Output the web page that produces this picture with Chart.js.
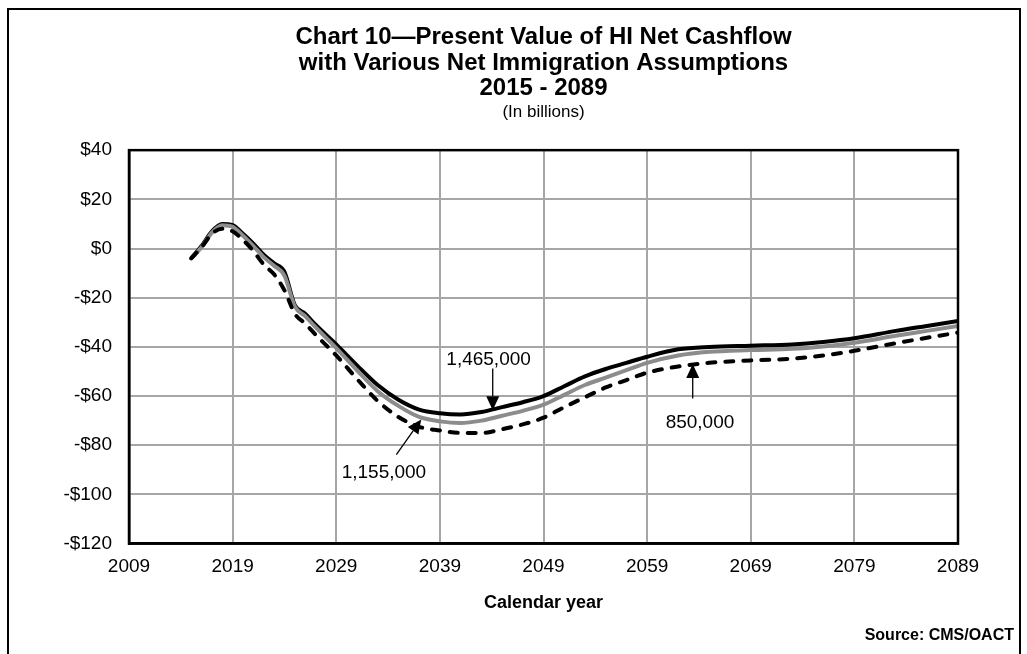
<!DOCTYPE html>
<html>
<head>
<meta charset="utf-8">
<script src="https://cdn.jsdelivr.net/npm/chart.js@4/dist/chart.umd.min.js"></script>
<style>
  body { margin: 0; background: #fff; }
  canvas { display: block; }
</style>
</head>
<body>
<canvas id="grafica" width="1027" height="654"></canvas>
<script>
// valores (miles de millones de dolares)
const years = [2015, 2016, 2017, 2018, 2019, 2020, 2021, 2022, 2023, 2024, 2025, 2026, 2027, 2029, 2031, 2033, 2035, 2037, 2039, 2041, 2043, 2045, 2047, 2049, 2051, 2053, 2055, 2057, 2059, 2062, 2065, 2069, 2073, 2076, 2079, 2083, 2086, 2089];
const flow1465 = [-4, 1, 7, 10, 9.5, 6, 2, -2.5, -6, -9.5, -23, -26.5, -31, -39, -47.5, -55.5, -61.5, -65.5, -67, -67.5, -66.5, -64.5, -62.5, -60, -56, -52, -49, -46.5, -44, -41, -40, -39.5, -39, -38, -36.5, -33.5, -31.5, -29.5];
const flow1155 = [-4, 0.5, 6.5, 9.5, 8.8, 5.2, 1, -3.5, -7, -11, -23.5, -27.5, -32, -40.5, -49.5, -58, -64, -68.5, -70.3, -71, -70, -68, -66, -63.5, -59.5, -55.5, -52.5, -49.5, -46.5, -43.5, -42, -41.3, -40.8, -39.8, -38.3, -35.5, -33.5, -31.5];
const flow850 = [-4, 0.5, 6, 8, 7, 3.5, -1, -6.5, -10.5, -17, -26.5, -30.5, -35, -43.5, -53, -62, -68.5, -72.5, -74, -75, -75, -73.5, -71.5, -68.8, -64.5, -60.5, -56.5, -53.5, -50.5, -48, -46.5, -45.5, -44.8, -43.5, -41.6, -38.5, -36.3, -34.2];
const xTicks = [2009, 2019, 2029, 2039, 2049, 2059, 2069, 2079, 2089];
const yTicks = [40, 20, 0, -20, -40, -60, -80, -100, -120];

// flechas con etiqueta, en coordenadas del grafico
const notas = [
    { text: '1,465,000', tx: 2043.7, ty: -45.3, from: [2044.1, -48.8], to: [2044.1, -65.8] },
    { text: '1,155,000', tx: 2033.6, ty: -91.2, from: [2034.8, -83.8], to: [2037.2, -69.5] },
    { text: '850,000', tx: 2064.1, ty: -70.9, from: [2063.4, -61], to: [2063.4, -47] }
];

function toPoints(vals) {
    return years.map((y, i) => ({ x: y, y: vals[i] }));
}

const FONT = "'Liberation Sans', Arial, sans-serif";

const marcoPlugin = {
    id: 'marco',
    afterDraw(chart) {
        const ctx = chart.ctx;
        const a = chart.chartArea;
        const sx = chart.scales.x, sy = chart.scales.y;
        ctx.save();
        // recuadro exterior
        ctx.strokeStyle = '#000';
        ctx.lineWidth = 2;
        ctx.strokeRect(8, 9, 1012, 660);
        // recuadro del area
        ctx.lineWidth = 2.5;
        ctx.strokeRect(a.left, a.top, a.right - a.left, a.bottom - a.top);

        // flechas
        ctx.fillStyle = '#000';
        ctx.lineWidth = 1.3;
        notas.forEach(n => {
            const x1 = sx.getPixelForValue(n.from[0]), y1 = sy.getPixelForValue(n.from[1]);
            const x2 = sx.getPixelForValue(n.to[0]), y2 = sy.getPixelForValue(n.to[1]);
            const ang = Math.atan2(y2 - y1, x2 - x1);
            const len = 14, half = 6.5;
            const bx = x2 - len * Math.cos(ang), by = y2 - len * Math.sin(ang);
            ctx.beginPath();
            ctx.moveTo(x1, y1);
            ctx.lineTo(bx, by);
            ctx.stroke();
            ctx.beginPath();
            ctx.moveTo(x2, y2);
            ctx.lineTo(bx + half * Math.sin(ang), by - half * Math.cos(ang));
            ctx.lineTo(bx - half * Math.sin(ang), by + half * Math.cos(ang));
            ctx.closePath();
            ctx.fill();
            ctx.font = '19px ' + FONT;
            ctx.textAlign = 'center';
            ctx.textBaseline = 'middle';
            ctx.fillText(n.text, sx.getPixelForValue(n.tx), sy.getPixelForValue(n.ty));
        });

        // fuente
        ctx.font = 'bold 16px ' + FONT;
        ctx.textAlign = 'right';
        ctx.textBaseline = 'middle';
        ctx.fillText('Source: CMS/OACT', 1014, 636);
        ctx.restore();
    }
};

function main() {
    const ctx = document.getElementById('grafica').getContext('2d');
    Chart.defaults.font.family = FONT;
    Chart.defaults.color = '#000';

    new Chart(ctx, {
        type: 'line',
        data: {
            datasets: [
                {
                    label: '850,000',
                    data: toPoints(flow850),
                    borderColor: '#000',
                    borderWidth: 4,
                    borderDash: [8, 10],
                    borderCapStyle: 'round',
                    order: 0
                },
                {
                    label: '1,155,000',
                    data: toPoints(flow1155),
                    borderColor: '#8c8c8c',
                    borderWidth: 4,
                    order: 1
                },
                {
                    label: '1,465,000',
                    data: toPoints(flow1465),
                    borderColor: '#000',
                    borderWidth: 4,
                    order: 2
                }
            ]
        },
        options: {
            responsive: false,
            animation: false,
            elements: {
                point: { radius: 0 },
                line: { cubicInterpolationMode: 'monotone', fill: false }
            },
            layout: { padding: { left: 0, right: 69, top: 0, bottom: 40 } },
            plugins: {
                legend: { display: false },
                tooltip: { enabled: false },
                title: {
                    display: true,
                    fullSize: false,
                    text: ['Chart 10\u2014Present Value of HI Net Cashflow', 'with Various Net Immigration Assumptions', '2015 - 2089'],
                    font: { size: 24, weight: 'bold', lineHeight: 1.08 },
                    color: '#000',
                    padding: { top: 24, bottom: 0 }
                },
                subtitle: {
                    display: true,
                    fullSize: false,
                    text: '(In billions)',
                    font: { size: 17, lineHeight: 1.2 },
                    color: '#000',
                    padding: { top: 0, bottom: 28 }
                }
            },
            scales: {
                x: {
                    type: 'linear',
                    min: 2009,
                    max: 2089,
                    afterBuildTicks: s => { s.ticks = xTicks.map(v => ({ value: v })); },
                    ticks: {
                        font: { size: 19 },
                        color: '#000',
                        padding: 12,
                        maxRotation: 0,
                        callback: v => String(v)
                    },
                    grid: { color: '#a6a6a6', lineWidth: 2, drawTicks: false },
                    border: { color: '#000', width: 2.5 },
                    title: {
                        display: true,
                        text: 'Calendar year',
                        font: { size: 18, weight: 'bold' },
                        color: '#000',
                        padding: { top: 2, bottom: 0 }
                    }
                },
                y: {
                    min: -120,
                    max: 40,
                    afterBuildTicks: s => { s.ticks = yTicks.map(v => ({ value: v })); },
                    afterFit: s => { s.width = 129; },
                    ticks: {
                        font: { size: 19 },
                        color: '#000',
                        padding: 17,
                        callback: v => (v < 0 ? '-$' + Math.abs(v) : '$' + v)
                    },
                    grid: { color: '#a6a6a6', lineWidth: 2, drawTicks: false },
                    border: { color: '#000', width: 2.5 }
                }
            }
        },
        plugins: [marcoPlugin]
    });
}

document.addEventListener('DOMContentLoaded', function() {
    main();
});
</script>
</body>
</html>
